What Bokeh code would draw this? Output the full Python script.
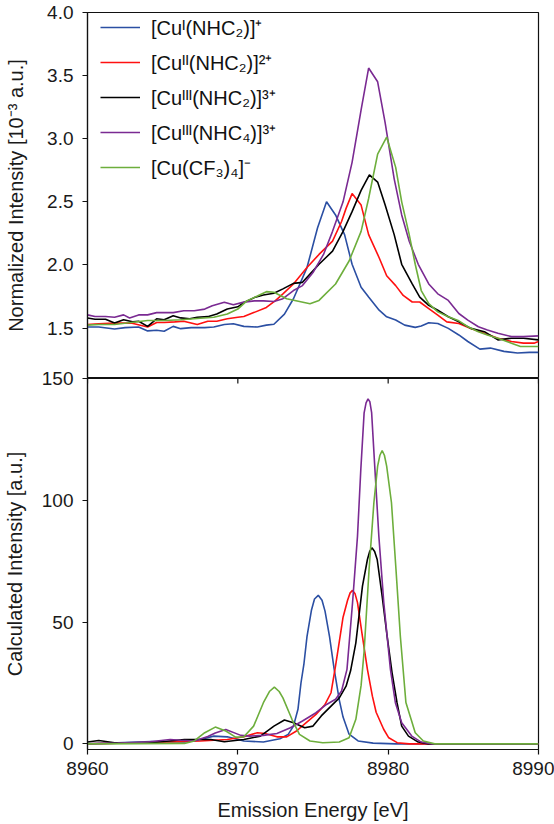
import math
from bokeh.plotting import figure
from bokeh.models import Range1d, FixedTicker, NumeralTickFormatter, Legend, LegendItem
from bokeh.layouts import column
from bokeh.embed import file_html
from bokeh.resources import INLINE

FONT = "Liberation Sans"

# ---------------- data ----------------
x_ticks = [8960, 8970, 8980, 8990]
top_ticks = [1.5, 2.0, 2.5, 3.0, 3.5, 4.0]
bottom_ticks = [0, 50, 100, 150]

series_names = ["[Cuᴵ(NHC₂)]⁺", "[Cuᴵᴵ(NHC₂)]²⁺", "[Cuᴵᴵᴵ(NHC₂)]³⁺", "[Cuᴵᴵᴵ(NHC₄)]³⁺", "[Cu(CF₃)₄]⁻"]
series_colors = ["#2B4FA3", "#FF1010", "#000000", "#7A2A92", "#6DAE3C"]

# experimental (normalized intensity, 10^-3 a.u.)
blue_exp = [(8960.0, 1.508), (8960.75, 1.508), (8961.8, 1.492), (8962.5, 1.503), (8963.4, 1.508), (8964.0, 1.477),
            (8964.6, 1.482), (8965.1, 1.474), (8965.7, 1.513), (8966.2, 1.495), (8966.9, 1.503), (8967.8, 1.503),
            (8968.4, 1.508), (8969.1, 1.528), (8969.7, 1.534), (8970.4, 1.513), (8971.3, 1.508), (8971.9, 1.523),
            (8972.4, 1.53), (8973.1, 1.61), (8973.7, 1.732), (8974.6, 1.979), (8975.3, 2.292), (8975.9, 2.5),
            (8976.5, 2.396), (8977.1, 2.24), (8977.6, 2.005), (8978.2, 1.823), (8978.7, 1.745), (8979.4, 1.641),
            (8979.9, 1.589), (8980.5, 1.563), (8981.1, 1.523), (8981.8, 1.505), (8982.2, 1.516), (8982.7, 1.542),
            (8983.3, 1.536), (8984.0, 1.497), (8984.7, 1.445), (8985.3, 1.393), (8986.1, 1.333), (8986.8, 1.341),
            (8987.7, 1.315), (8988.6, 1.302), (8989.4, 1.307), (8990.0, 1.307)]
red_exp = [(8960.0, 1.528), (8960.75, 1.534), (8961.8, 1.539), (8962.9, 1.539), (8964.0, 1.508), (8964.6, 1.544),
           (8965.1, 1.544), (8965.8, 1.549), (8966.4, 1.554), (8967.3, 1.528), (8968.0, 1.554), (8968.6, 1.554),
           (8969.3, 1.573), (8970.0, 1.585), (8970.4, 1.591), (8971.1, 1.624), (8971.9, 1.663), (8972.5, 1.717),
           (8973.0, 1.771), (8973.7, 1.849), (8974.6, 1.979), (8975.4, 2.083), (8976.3, 2.188), (8976.9, 2.344),
           (8977.2, 2.448), (8977.6, 2.565), (8978.2, 2.474), (8978.7, 2.24), (8979.4, 2.057), (8979.9, 1.914),
           (8980.5, 1.836), (8981.0, 1.758), (8981.6, 1.706), (8982.1, 1.706), (8982.7, 1.654), (8983.3, 1.602),
           (8983.9, 1.549), (8984.7, 1.536), (8985.5, 1.497), (8986.4, 1.458), (8987.3, 1.419), (8988.2, 1.393),
           (8989.0, 1.38), (8989.7, 1.38), (8990.0, 1.393)]
black_exp = [(8960.0, 1.58), (8960.5, 1.57), (8961.2, 1.57), (8961.8, 1.539), (8962.4, 1.565), (8963.0, 1.549),
             (8963.4, 1.554), (8964.0, 1.513), (8964.6, 1.573), (8965.1, 1.565), (8965.7, 1.598), (8966.2, 1.58),
             (8966.8, 1.573), (8967.3, 1.585), (8968.0, 1.59), (8968.6, 1.611), (8969.3, 1.65), (8970.0, 1.668),
             (8970.4, 1.702), (8971.1, 1.741), (8971.7, 1.762), (8972.4, 1.775), (8973.0, 1.81), (8973.7, 1.854),
             (8974.3, 1.862), (8974.8, 1.927), (8975.4, 2.005), (8976.3, 2.109), (8977.0, 2.266), (8977.6, 2.422),
             (8978.2, 2.591), (8978.75, 2.714), (8979.3, 2.656), (8979.8, 2.474), (8980.4, 2.24), (8980.9, 2.005),
             (8981.6, 1.849), (8982.1, 1.745), (8982.7, 1.68), (8983.3, 1.641), (8984.0, 1.589), (8984.7, 1.549),
             (8985.5, 1.497), (8986.4, 1.471), (8987.3, 1.406), (8988.2, 1.419), (8989.0, 1.419), (8990.0, 1.406)]
purple_exp = [(8960.0, 1.604), (8960.5, 1.591), (8961.2, 1.591), (8961.8, 1.585), (8962.4, 1.604), (8962.8, 1.58),
              (8963.4, 1.604), (8964.0, 1.604), (8964.6, 1.622), (8965.1, 1.622), (8965.7, 1.622), (8966.4, 1.637),
              (8967.1, 1.637), (8967.8, 1.65), (8968.3, 1.676), (8969.1, 1.705), (8969.7, 1.684), (8970.4, 1.705),
              (8971.1, 1.715), (8971.7, 1.715), (8972.4, 1.71), (8973.0, 1.732), (8973.7, 1.797), (8974.3, 1.836),
              (8975.0, 1.94), (8975.7, 2.083), (8976.3, 2.266), (8977.0, 2.5), (8977.6, 2.813), (8978.2, 3.229),
              (8978.7, 3.56), (8979.3, 3.451), (8979.8, 3.125), (8980.4, 2.682), (8980.9, 2.396), (8981.4, 2.188),
              (8982.0, 2.005), (8982.7, 1.849), (8983.3, 1.771), (8984.0, 1.719), (8984.7, 1.615), (8985.3, 1.563),
              (8986.0, 1.51), (8986.6, 1.484), (8987.3, 1.458), (8988.2, 1.432), (8989.0, 1.432), (8990.0, 1.438)]
green_exp = [(8960.0, 1.523), (8960.75, 1.528), (8961.8, 1.528), (8962.9, 1.544), (8964.0, 1.559), (8965.1, 1.559),
             (8966.2, 1.565), (8967.3, 1.575), (8968.4, 1.585), (8969.3, 1.611), (8970.0, 1.65), (8970.6, 1.715),
             (8971.3, 1.754), (8971.9, 1.788), (8972.4, 1.784), (8973.25, 1.732), (8974.8, 1.693), (8975.4, 1.719),
             (8976.5, 1.849), (8977.4, 2.031), (8978.2, 2.266), (8978.7, 2.526), (8979.3, 2.878), (8979.9, 3.013),
             (8980.5, 2.773), (8980.9, 2.5), (8981.4, 2.24), (8981.8, 2.005), (8982.2, 1.797), (8982.7, 1.693),
             (8983.3, 1.628), (8984.0, 1.589), (8984.7, 1.557), (8985.3, 1.51), (8986.0, 1.471), (8986.6, 1.445),
             (8987.3, 1.419), (8988.2, 1.38), (8988.8, 1.354), (8990.0, 1.354)]

# calculated intensity (a.u.)
blue_calc = [(8960.0, 0.0), (8962.0, 0.5), (8964.25, 1.0), (8966.45, 0.75), (8967.5, 1.8), (8968.4, 3.2),
             (8969.3, 2.9), (8970.4, 1.2), (8971.7, 0.75), (8972.8, 2.1), (8973.35, 3.9), (8973.7, 7.3),
             (8974.0, 14.2), (8974.2, 25.0), (8974.4, 33.0), (8974.6, 44.0), (8974.9, 55.0), (8975.1, 59.5),
             (8975.35, 61.0), (8975.6, 59.0), (8975.8, 54.5), (8976.1, 44.0), (8976.4, 31.0), (8976.75, 18.0),
             (8977.0, 11.0), (8977.4, 4.0), (8978.0, 1.2), (8979.0, 0.3), (8980.5, 0.0), (8990.0, 0.0)]
red_calc = [(8960.0, 0.0), (8963.2, 0.5), (8965.35, 0.75), (8967.5, 1.2), (8969.3, 1.8), (8970.4, 2.9),
            (8971.3, 4.6), (8971.8, 4.3), (8972.6, 2.9), (8973.25, 2.9), (8973.9, 5.3), (8974.55, 8.7),
            (8975.2, 12.1), (8975.8, 16.2), (8976.2, 21.0), (8976.5, 32.0), (8976.75, 42.0), (8977.0, 52.0),
            (8977.3, 59.0), (8977.47, 62.0), (8977.63, 63.0), (8977.8, 61.6), (8977.96, 58.0), (8978.29, 44.0),
            (8978.62, 30.6), (8978.95, 19.6), (8979.2, 13.0), (8979.7, 6.0), (8980.04, 2.5), (8980.6, 0.5),
            (8981.4, 0.0), (8990.0, 0.0)]
black_calc = [(8960.0, 0.8), (8960.75, 1.4), (8961.8, 0.5), (8964.25, 0.5), (8966.45, 1.8), (8968.2, 1.8),
              (8969.1, 0.9), (8970.4, 1.8), (8971.5, 3.2), (8972.4, 7.3), (8973.1, 9.8), (8973.7, 8.7),
              (8974.45, 6.6), (8975.0, 7.3), (8975.55, 11.5), (8976.2, 15.5), (8976.75, 18.9), (8977.2, 23.7),
              (8977.5, 30.0), (8977.85, 41.5), (8978.29, 64.8), (8978.62, 75.7), (8978.77, 79.0), (8978.92, 80.5),
              (8979.1, 79.0), (8979.27, 75.7), (8979.6, 60.7), (8979.93, 44.2), (8980.26, 29.2), (8980.59, 16.9),
              (8980.9, 7.3), (8981.35, 3.2), (8982.0, 0.75), (8982.7, 0.0), (8990.0, 0.0)]
purple_calc = [(8960.0, 0.0), (8962.0, 0.3), (8964.0, 0.8), (8965.5, 1.8), (8966.2, 1.5), (8967.1, 1.2),
               (8968.0, 3.0), (8968.5, 4.5), (8969.2, 5.9), (8970.2, 3.5), (8970.8, 3.2), (8971.7, 3.5),
               (8972.6, 4.3), (8973.5, 6.6), (8974.3, 9.4), (8975.2, 12.8), (8975.9, 16.2), (8976.5, 18.3),
               (8976.9, 21.7), (8977.26, 30.6), (8977.63, 57.9), (8977.96, 85.3), (8978.18, 112.6), (8978.4, 135.9),
               (8978.53, 140.0), (8978.66, 141.6), (8978.78, 140.5), (8978.9, 136.0), (8979.12, 112.6),
               (8979.38, 85.3), (8979.71, 57.9), (8980.15, 30.6), (8980.48, 16.9), (8980.9, 8.7), (8981.57, 3.2),
               (8982.2, 0.75), (8982.9, 0.0), (8990.0, 0.0)]
green_calc = [(8960.0, 0.0), (8966.45, 0.2), (8967.1, 1.2), (8967.8, 4.6), (8968.5, 6.9), (8969.2, 5.3),
              (8969.85, 2.8), (8970.4, 2.9), (8971.05, 7.3), (8971.7, 16.9), (8972.1, 21.5), (8972.43, 23.3),
              (8972.75, 21.5), (8973.0, 18.9), (8973.6, 10.1), (8974.1, 3.9), (8974.8, 1.2), (8975.65, 0.5),
              (8976.75, 0.75), (8977.4, 2.5), (8977.85, 10.1), (8978.2, 24.0), (8978.4, 38.0), (8978.73, 71.6),
              (8979.05, 99.0), (8979.3, 114.0), (8979.45, 118.5), (8979.6, 120.4), (8979.75, 118.5), (8979.9, 114.0),
              (8980.22, 99.0), (8980.52, 71.6), (8980.81, 44.2), (8981.18, 17.0), (8981.53, 10.0), (8981.8, 4.6),
              (8982.34, 1.2), (8983.1, 0.0), (8990.0, 0.0)]

exp_series = [blue_exp, red_exp, black_exp, purple_exp, green_exp]
calc_series = [blue_calc, red_calc, black_calc, purple_calc, green_calc]

# ---------------- figures ----------------
x_range = Range1d(8960, 8990)
AX = "#111111"


def style_axes(p):
    p.xgrid.visible = False
    p.ygrid.visible = False
    p.outline_line_color = AX
    p.outline_line_width = 1.2
    for ax in p.xaxis + p.yaxis:
        ax.axis_line_color = AX
        ax.axis_line_width = 1.2
        ax.major_tick_line_color = AX
        ax.major_tick_line_width = 1.2
        ax.major_tick_out = 5
        ax.major_tick_in = 0
        ax.minor_tick_line_color = None
        ax.major_label_text_font = FONT
        ax.major_label_text_font_size = "19px"
        ax.major_label_text_color = "#1a1a1a"
        ax.axis_label_text_font = FONT
        ax.axis_label_text_font_size = "20px"
        ax.axis_label_text_font_style = "normal"
        ax.axis_label_text_color = "#1a1a1a"


# top panel: experimental spectra
p1 = figure(width=554, height=378, x_range=x_range, y_range=Range1d(1.1, 4.0),
            output_backend="svg", toolbar_location=None, x_axis_location=None,
            min_border_left=82, min_border_right=16, min_border_top=12, min_border_bottom=0)
style_axes(p1)
p1.yaxis.ticker = FixedTicker(ticks=top_ticks)
p1.yaxis.formatter = NumeralTickFormatter(format="0.0")
p1.yaxis.major_label_standoff = 9
p1.yaxis.axis_label = "Normalized Intensity [10⁻³ a.u.]"
p1.yaxis.axis_label_standoff = 17

renderers = []
for data, color in zip(exp_series, series_colors):
    xs = [d[0] for d in data]
    ys = [d[1] for d in data]
    renderers.append(p1.line(xs, ys, line_color=color, line_width=1.6))

legend = Legend(items=[LegendItem(label=n, renderers=[r]) for n, r in zip(series_names, renderers)],
                location=(13, 197), glyph_width=40, glyph_height=28, label_height=28, spacing=7,
                padding=0, margin=0, label_standoff=11, border_line_color=None, background_fill_alpha=0,
                label_text_font=FONT, label_text_font_size="20px", label_text_color="#111111")
p1.add_layout(legend)

# bottom panel: calculated spectra
p2 = figure(width=554, height=458, x_range=x_range, y_range=Range1d(-2.3, 150),
            output_backend="svg", toolbar_location=None,
            min_border_left=82, min_border_right=16, min_border_top=12, min_border_bottom=75)
style_axes(p2)
p2.border_fill_color = None
p2.margin = (-12, 0, 0, 0)
p2.xaxis.ticker = FixedTicker(ticks=x_ticks)
p2.xaxis.major_label_standoff = 7
p2.xaxis.axis_label = "Emission Energy [eV]"
p2.xaxis.axis_label_standoff = 21
p2.yaxis.ticker = FixedTicker(ticks=bottom_ticks)
p2.yaxis.major_label_standoff = 9
p2.yaxis.axis_label = "Calculated Intensity [a.u.]"
p2.yaxis.axis_label_standoff = 13

# tick marks of the shared energy axis on the line between the two panels
p2.ray(x=x_ticks, y=[bottom_ticks[-1]] * len(x_ticks), length=5, length_units="screen",
       angle=-math.pi / 2, line_color=AX, line_width=1.2)

for data, color in zip(calc_series, series_colors):
    xs = [d[0] for d in data]
    ys = [d[1] for d in data]
    p2.line(xs, ys, line_color=color, line_width=1.6)

layout = column(p1, p2)
open("out.html", "w").write(file_html(layout, INLINE))
